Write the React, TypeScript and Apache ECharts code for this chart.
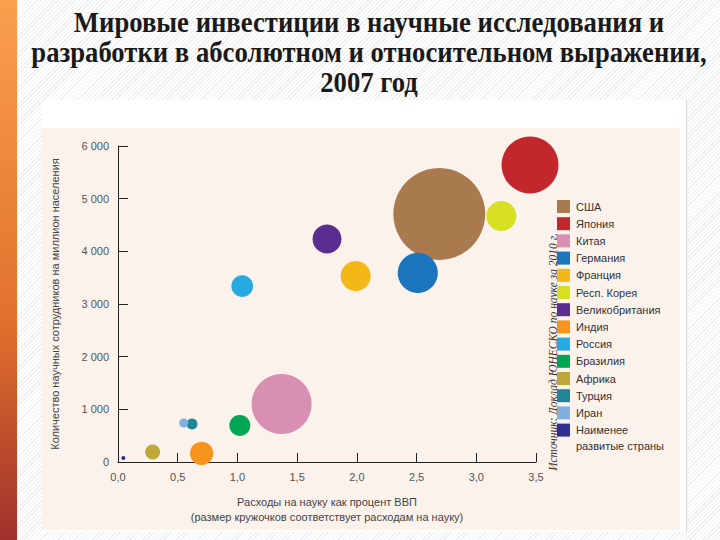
import React, { useEffect, useRef } from "react";
import * as echarts from "echarts";

const categories = [
  "США",
  "Япония",
  "Китая",
  "Германия",
  "Франция",
  "Респ. Корея",
  "Великобритания",
  "Индия",
  "Россия",
  "Бразилия",
  "Африка",
  "Турция",
  "Иран",
  "Наименее развитые страны",
];
// Расходы на науку, % ВВП
const gdpShare = [2.69, 3.45, 1.37, 2.51, 1.99, 3.21, 1.75, 0.7, 1.04, 1.02, 0.29, 0.62, 0.55, 0.045];
// Научные сотрудники на миллион населения
const researchers = [4710, 5640, 1100, 3590, 3530, 4670, 4235, 165, 3340, 695, 190, 720, 740, 75];
// Расходы на науку (млрд долл., размер кружка)
const spending = [373, 143, 159, 71, 40, 40, 37, 24, 21, 19.5, 9.9, 5.3, 3.6, 0.7];
const colors = [
  "#a97a4e",
  "#c1272d",
  "#d98fb2",
  "#1b75bc",
  "#f3b816",
  "#d7df23",
  "#5c2d91",
  "#f7941d",
  "#27aae1",
  "#00a651",
  "#bfa83a",
  "#21859a",
  "#7fb0de",
  "#2e3192",
];
const xTicks = { min: 0, max: 3.5, interval: 0.5 };
const yTicks = { min: 0, max: 6000, interval: 1000 };

const titleText =
  "Мировые инвестиции в научные исследования и\nразработки в абсолютном и относительном выражении,\n2007 год";
const sourceText = "Источник: Доклад ЮНЕСКО по науке за 2010 г.";

export default function App() {
  const ref = useRef<HTMLDivElement>(null);
  useEffect(() => {
    document.body.style.margin = "0";
    if (!ref.current) return;
    const chart = echarts.init(ref.current, null, { renderer: "svg" });
    const sizeK = 4.76;
    const series = categories.map((name, i) => ({
      name,
      type: "scatter",
      data: [[gdpShare[i], researchers[i], spending[i]]],
      symbolSize: (v: number[]) => sizeK * Math.sqrt(v[2]),
      itemStyle: { color: colors[i], opacity: 1 },
      emphasis: { disabled: true },
    }));
    const sans = "Liberation Sans";
    chart.setOption({
      animation: false,
      graphic: [
        {
          type: "rect",
          z: -20,
          silent: true,
          shape: { x: 0, y: 0, width: 17, height: 540 },
          style: {
            fill: new echarts.graphic.LinearGradient(0, 0, 0, 1, [
              { offset: 0, color: "#fb9f4f" },
              { offset: 0.6, color: "#e0702c" },
              { offset: 1, color: "#a12f2c" },
            ]),
          },
        },
        {
          type: "rect",
          z: -20,
          silent: true,
          shape: { x: 42, y: 100, width: 644, height: 432 },
          style: { fill: "#ffffff" },
        },
        {
          type: "rect",
          z: -19,
          silent: true,
          shape: { x: 42, y: 128, width: 638, height: 402 },
          style: { fill: "#fcf2ec" },
        },
        {
          type: "line",
          z: -19,
          silent: true,
          shape: { x1: 686.5, y1: 100, x2: 686.5, y2: 532 },
          style: { stroke: "#d3d8de", lineWidth: 1 },
        },
        {
          type: "text",
          x: 369,
          y: 7,
          scaleX: 0.92,
          style: {
            text: titleText,
            fontFamily: "Liberation Serif",
            fontWeight: "bold",
            fontSize: 29,
            lineHeight: 30,
            align: "center",
            verticalAlign: "top",
            fill: "#1a1a1a",
          },
        },
        {
          type: "text",
          x: 553,
          y: 352,
          rotation: Math.PI / 2,
          style: {
            text: sourceText,
            fontFamily: "Liberation Serif",
            fontStyle: "italic",
            fontSize: 11.5,
            align: "center",
            verticalAlign: "middle",
            fill: "#333333",
          },
        },
        {
          type: "text",
          x: 576,
          y: 446,
          style: {
            text: "развитые страны",
            fontFamily: sans,
            fontSize: 11,
            align: "left",
            verticalAlign: "middle",
            fill: "#333333",
          },
        },
      ],
      grid: { left: 118, right: 184, top: 146, bottom: 78, containLabel: false },
      legend: {
        orient: "vertical",
        left: 557,
        top: 200,
        padding: 0,
        itemWidth: 13,
        itemHeight: 13,
        itemGap: 4.2,
        icon: "rect",
        selectedMode: false,
        data: categories,
        formatter: (n: string) => (n === "Наименее развитые страны" ? "Наименее" : n),
        textStyle: { fontFamily: sans, fontSize: 11, color: "#333333", lineHeight: 13, padding: [0, 0, 0, 1] },
      },
      xAxis: {
        type: "value",
        min: xTicks.min,
        max: xTicks.max,
        interval: xTicks.interval,
        name: "Расходы на науку как процент ВВП\n(размер кружочков соответствует расходам на науку)",
        nameLocation: "middle",
        nameGap: 32,
        nameTextStyle: { fontFamily: sans, fontSize: 11, color: "#444444", lineHeight: 15 },
        axisLine: { lineStyle: { color: "#222222", width: 1 } },
        axisTick: { inside: true, length: 9, lineStyle: { color: "#222222" } },
        splitLine: { show: false },
        axisLabel: {
          margin: 9,
          fontFamily: sans,
          fontSize: 11,
          color: "#555555",
          formatter: (v: number) => v.toFixed(1).replace(".", ","),
        },
      },
      yAxis: {
        type: "value",
        min: yTicks.min,
        max: yTicks.max,
        interval: yTicks.interval,
        name: "Количество научных сотрудников на миллион населения",
        nameLocation: "middle",
        nameRotate: 90,
        nameGap: 58,
        nameTextStyle: { fontFamily: sans, fontSize: 11, color: "#444444" },
        axisLine: { show: true, lineStyle: { color: "#222222", width: 1 } },
        axisTick: { show: true, inside: true, length: 10, lineStyle: { color: "#222222" } },
        splitLine: { show: false },
        axisLabel: {
          margin: 9,
          fontFamily: sans,
          fontSize: 11,
          color: "#555555",
          formatter: (v: number) => (v === 0 ? "0" : `${v / 1000} 000`),
        },
      },
      series,
    });
    return () => chart.dispose();
  }, []);
  return (
    <div
      ref={ref}
      style={{
        width: 720,
        height: 540,
        background:
          "repeating-linear-gradient(135deg, #ffffff 0px, #ffffff 2px, #eeeeee 2px, #eeeeee 3px)",
      }}
    />
  );
}
